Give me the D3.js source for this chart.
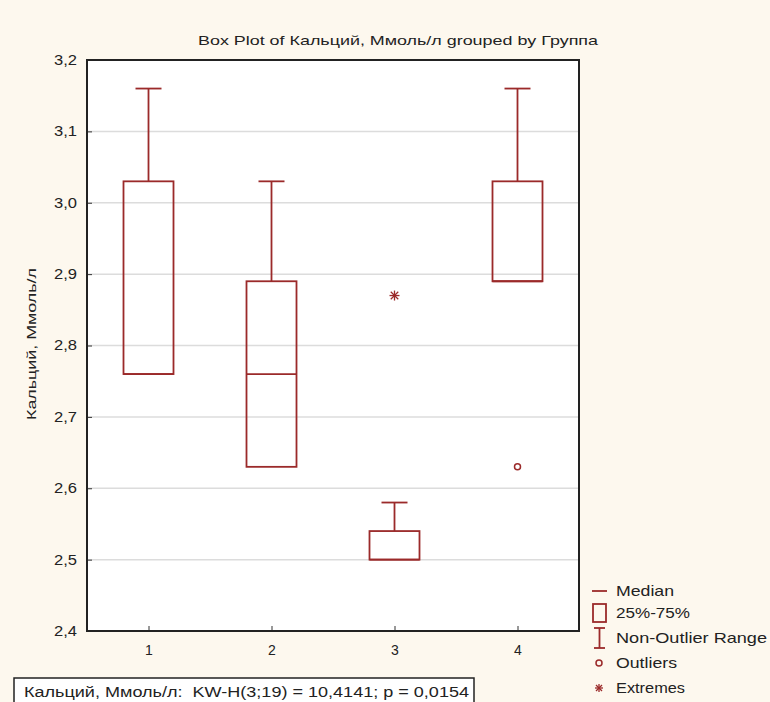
<!DOCTYPE html>
<html><head><meta charset="utf-8">
<script src="https://cdn.jsdelivr.net/npm/d3@7"></script>
<style>
body{margin:0;background:#fdf8ee;}
svg{display:block;font-family:"Liberation Sans",Arial,sans-serif;}
</style></head><body>
<svg id="c" width="770" height="702"></svg>
<script>
const groups = ["1","2","3","4"];
const whiskerLow  = [2.76, 2.63, 2.50, 2.89];
const q1          = [2.76, 2.63, 2.50, 2.89];
const median      = [2.76, 2.76, 2.50, 2.89];
const q3          = [3.03, 2.89, 2.54, 3.03];
const whiskerHigh = [3.16, 3.03, 2.58, 3.16];
const outliers = [{g:4, v:2.63}];
const extremes = [{g:3, v:2.87}];
const yTicks = [2.4,2.5,2.6,2.7,2.8,2.9,3.0,3.1,3.2];
const legendItems = ["Median","25%-75%","Non-Outlier Range","Outliers","Extremes"];
const legendWidths = [58,74,151,61,69];

const col = "#9b2a2a";
const svg = d3.select("#c");
const L=87, T=60, R=579, B=631;
const x = d3.scaleLinear().domain([0.5,4.5]).range([L,R]);
const y = d3.scaleLinear().domain([2.4,3.2]).range([B,T]);
const fmt = d => d3.format(".1f")(d).replace(".", ",");
const ADJ = "spacingAndGlyphs";

svg.append("rect").attr("x",L).attr("y",T).attr("width",R-L).attr("height",B-T).attr("fill","#fff");
// grid
svg.append("g").selectAll("line").data(yTicks.slice(1,-1)).join("line")
  .attr("x1",L).attr("x2",R).attr("y1",d=>y(d)).attr("y2",d=>y(d))
  .attr("stroke","#dcdcdc").attr("stroke-width",1.5);

// axes
const ya = svg.append("g").attr("transform",`translate(${L},0)`)
  .call(d3.axisLeft(y).tickValues(yTicks).tickFormat(fmt).tickSize(-5).tickPadding(10));
ya.select(".domain").remove();
ya.selectAll("line").attr("stroke","#333");
ya.selectAll("text").attr("font-size",14).attr("fill","#222")
  .attr("textLength",23).attr("lengthAdjust",ADJ);
const xa = svg.append("g").attr("transform",`translate(0,${B})`)
  .call(d3.axisBottom(x).tickValues([1,2,3,4]).tickFormat((d,i)=>groups[i]).tickSize(-5).tickPadding(14));
xa.select(".domain").remove();
xa.selectAll("line").attr("stroke","#333");
xa.selectAll("text").attr("font-size",14).attr("fill","#222");

svg.append("rect").attr("x",L).attr("y",T).attr("width",R-L).attr("height",B-T)
  .attr("fill","none").attr("stroke","#222").attr("stroke-width",2);

// boxes
const bw = 50, cw = 26;
const g = svg.append("g").attr("stroke",col).attr("stroke-width",1.8).attr("fill","none");
groups.forEach((gr,i)=>{
  const cx = x(i+1);
  if (whiskerHigh[i] > q3[i]) {
    g.append("line").attr("x1",cx).attr("x2",cx).attr("y1",y(q3[i])).attr("y2",y(whiskerHigh[i]));
    g.append("line").attr("x1",cx-cw/2).attr("x2",cx+cw/2).attr("y1",y(whiskerHigh[i])).attr("y2",y(whiskerHigh[i]));
  }
  if (whiskerLow[i] < q1[i]) {
    g.append("line").attr("x1",cx).attr("x2",cx).attr("y1",y(q1[i])).attr("y2",y(whiskerLow[i]));
    g.append("line").attr("x1",cx-cw/2).attr("x2",cx+cw/2).attr("y1",y(whiskerLow[i])).attr("y2",y(whiskerLow[i]));
  }
  g.append("rect").attr("x",cx-bw/2).attr("y",y(q3[i])).attr("width",bw).attr("height",y(q1[i])-y(q3[i]));
  g.append("line").attr("x1",cx-bw/2).attr("x2",cx+bw/2).attr("y1",y(median[i])).attr("y2",y(median[i]));
});
outliers.forEach(o=>{
  g.append("circle").attr("cx",x(o.g)).attr("cy",y(o.v)).attr("r",3).attr("stroke-width",1.5);
});
function asterisk(sel,cx,cy,s){
  const a = sel.append("g").attr("stroke-width",1.3);
  a.append("line").attr("x1",cx-s).attr("x2",cx+s).attr("y1",cy).attr("y2",cy);
  a.append("line").attr("x1",cx).attr("x2",cx).attr("y1",cy-s).attr("y2",cy+s);
  a.append("line").attr("x1",cx-s*0.75).attr("x2",cx+s*0.75).attr("y1",cy-s*0.75).attr("y2",cy+s*0.75);
  a.append("line").attr("x1",cx-s*0.75).attr("x2",cx+s*0.75).attr("y1",cy+s*0.75).attr("y2",cy-s*0.75);
}
extremes.forEach(e=> asterisk(g, x(e.g), y(e.v), 5));

// title
svg.append("text").attr("x",198).attr("y",45)
  .attr("font-size",13.5).attr("fill","#222")
  .attr("textLength",400).attr("lengthAdjust",ADJ)
  .text("Box Plot of Кальций, Ммоль/л grouped by Группа");
// y label
svg.append("text").attr("transform",`translate(36,420) rotate(-90)`)
  .attr("font-size",13.5).attr("fill","#222")
  .attr("textLength",152).attr("lengthAdjust",ADJ)
  .text("Кальций, Ммоль/л");

// legend
const lg = svg.append("g");
const ly = [591,613,638,663,688];
const ls = lg.append("g").attr("stroke",col).attr("stroke-width",1.8).attr("fill","none");
ls.append("line").attr("x1",592).attr("x2",607).attr("y1",ly[0]).attr("y2",ly[0]);
ls.append("rect").attr("x",593).attr("y",ly[1]-9).attr("width",13).attr("height",18);
ls.append("line").attr("x1",599.5).attr("x2",599.5).attr("y1",ly[2]-10).attr("y2",ly[2]+10);
ls.append("line").attr("x1",594).attr("x2",605).attr("y1",ly[2]-10).attr("y2",ly[2]-10);
ls.append("line").attr("x1",594).attr("x2",605).attr("y1",ly[2]+10).attr("y2",ly[2]+10);
ls.append("circle").attr("cx",599).attr("cy",ly[3]).attr("r",3).attr("stroke-width",1.5);
asterisk(ls,599,ly[4],4);
lg.selectAll("text").data(legendItems).join("text")
  .attr("x",616).attr("y",(d,i)=>ly[i]+5).attr("font-size",15).attr("fill","#222")
  .attr("textLength",(d,i)=>legendWidths[i]).attr("lengthAdjust",ADJ)
  .text(d=>d);

// stats box
svg.append("rect").attr("x",14).attr("y",678).attr("width",460).attr("height",30)
  .attr("fill","#fff").attr("stroke","#222").attr("stroke-width",1.5);
svg.append("text").attr("x",24).attr("y",697).attr("font-size",14).attr("fill","#222")
  .attr("xml:space","preserve").attr("textLength",445).attr("lengthAdjust",ADJ)
  .text("Кальций, Ммоль/л:  KW-H(3;19) = 10,4141; p = 0,0154");
</script>
</body></html>
